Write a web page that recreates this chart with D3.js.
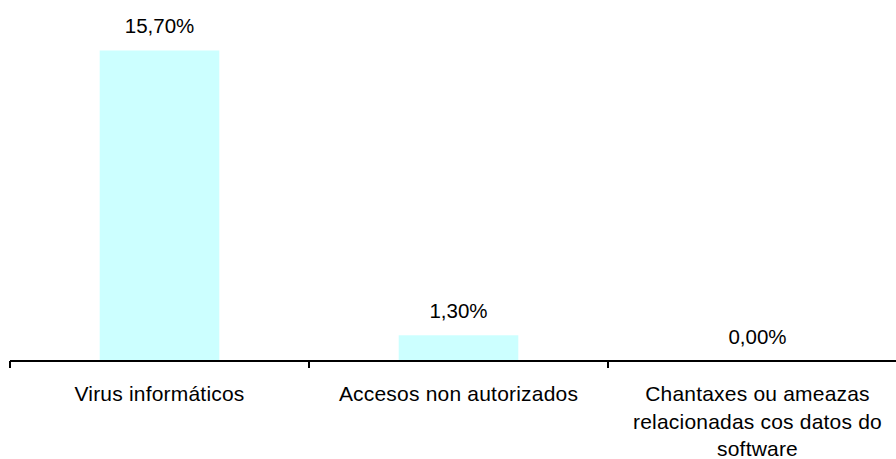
<!DOCTYPE html>
<html><head><meta charset="utf-8">
<script src="https://cdn.jsdelivr.net/npm/d3@7/dist/d3.min.js"></script>
<style>html,body{margin:0;padding:0;background:#fff;}svg{display:block;}</style>
</head><body>
<script>
const categories = ["Virus informáticos", "Accesos non autorizados", "Chantaxes ou ameazas relacionadas cos datos do software"];
const categoryLines = [["Virus informáticos"], ["Accesos non autorizados"], ["Chantaxes ou ameazas", "relacionadas cos datos do", "software"]];
const values = [15.7, 1.3, 0.0];
const valueLabels = ["15,70%", "1,30%", "0,00%"];

const W = 896, H = 459;
const svg = d3.select("body").append("svg").attr("width", W).attr("height", H);
const font = "Liberation Sans, Arial, sans-serif";

const x = d3.scaleBand().domain(categories).range([10, 907]).padding(0);
const y = d3.scaleLinear().domain([0, 18]).range([361, 5]);
const barW = x.bandwidth() * 0.4;

svg.selectAll("rect.bar").data(values).join("rect")
  .attr("class", "bar")
  .attr("x", (d, i) => x(categories[i]) + x.bandwidth() / 2 - barW / 2)
  .attr("y", d => y(d))
  .attr("width", barW)
  .attr("height", d => y(0) - y(d))
  .attr("fill", "#CCFFFF");

svg.selectAll("text.val").data(values).join("text")
  .attr("class", "val")
  .attr("x", (d, i) => x(categories[i]) + x.bandwidth() / 2)
  .attr("y", d => y(d) - 17)
  .attr("text-anchor", "middle")
  .attr("font-family", font).attr("font-size", 20.5).attr("fill", "#000")
  .text((d, i) => valueLabels[i]);

// axis
const axis = d3.axisBottom(x).tickSize(0).tickFormat("");
const g = svg.append("g").attr("transform", "translate(0,361)").call(axis);
g.select(".domain").attr("stroke", "#000").attr("stroke-width", 2).attr("d", "M10,0H907");
const edges = categories.map(c => x(c)).concat([x(categories[categories.length - 1]) + x.bandwidth()]);
g.selectAll("line.edge").data(edges).join("line")
  .attr("class", "edge")
  .attr("x1", d => d).attr("x2", d => d)
  .attr("y1", 0).attr("y2", 7)
  .attr("stroke", "#000").attr("stroke-width", 2);

categoryLines.forEach((lines, i) => {
  const t = svg.append("text")
    .attr("text-anchor", "middle")
    .attr("font-family", font).attr("font-size", 21).attr("letter-spacing", 0.2).attr("fill", "#000");
  lines.forEach((ln, j) => {
    t.append("tspan")
      .attr("x", x(categories[i]) + x.bandwidth() / 2)
      .attr("y", 401 + j * 27.5)
      .text(ln);
  });
});
</script>
</body></html>
